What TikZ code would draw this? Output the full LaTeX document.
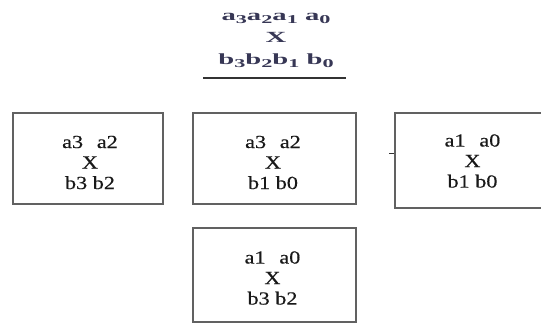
\documentclass[tikz,border=0pt]{standalone}
\usepackage{fontspec}
\setmainfont{Liberation Serif}
\newfontfamily\boxfont[FakeStretch=1.2,FakeBold=0.4]{Liberation Serif}
\newfontfamily\headfont[FakeStretch=1.85]{Liberation Serif}
% subscript index in the heading
\newcommand{\ix}[1]{\raisebox{-2.2pt}{\fontsize{12}{12}\selectfont#1}}
\begin{document}
\begin{tikzpicture}[x=1pt,y=-1pt,
  part/.style={draw=black!62, line width=2.8pt, fill=white,
    inner sep=0pt, minimum width=#1},
  part/.default=150pt,
  parttext/.style={align=center, inner sep=0pt, text=black!90,
    font=\boxfont\fontsize{18.5}{20.5}\selectfont}]
  \useasboundingbox (0,0) rectangle (541,324);
  \fill[white] (0,0) rectangle (541,324);

  % the operands being multiplied
  \node[align=center, inner sep=0pt, text={rgb,255:red,55;green,55;blue,85},
        font=\headfont\fontsize{15.5}{22}\selectfont\bfseries] (prod) at (276,40.5)
    {a\ix{3}a\ix{2}a\ix{1} a\ix{0}\\
     X\\
     b\ix{3}b\ix{2}b\ix{1} b\ix{0}};
  \coordinate (ruleL) at (203,78);
  \coordinate (ruleR) at (346,78);
  \draw[line width=2pt, black!80] (ruleL) -- (ruleR);

  % partial products
  \node[part=150pt, minimum height=91pt] (hh) at (88,158.5) {};
  \node[part=163pt, minimum height=91pt] (hl) at (274.5,158.5) {};
  \node[part=147pt, minimum height=95pt] (ll) at (468.5,160.5) {};
  \node[part=163pt, minimum height=94pt] (lh) at (274.5,275) {};

  \node[parttext] (hht) at ([xshift=2pt,yshift=-4pt]hh.center) {a3\;\, a2\\X\\b3 b2};
  \node[parttext] (hlt) at ([xshift=-1.5pt,yshift=-4pt]hl.center) {a3\;\, a2\\X\\b1 b0};
  \node[parttext] (llt) at ([xshift=4pt,yshift=-0.5pt]ll.center) {a1\;\, a0\\X\hspace*{10pt}\\b1 b0};
  \node[parttext] (lht) at ([xshift=-2pt,yshift=-3pt]lh.center) {a1\;\, a0\\X\\b3 b2};

  \coordinate (tick) at (389,153);
  \draw[black!80, line width=0.8pt] (tick) -- (ll.west |- tick);
\end{tikzpicture}
\end{document}
